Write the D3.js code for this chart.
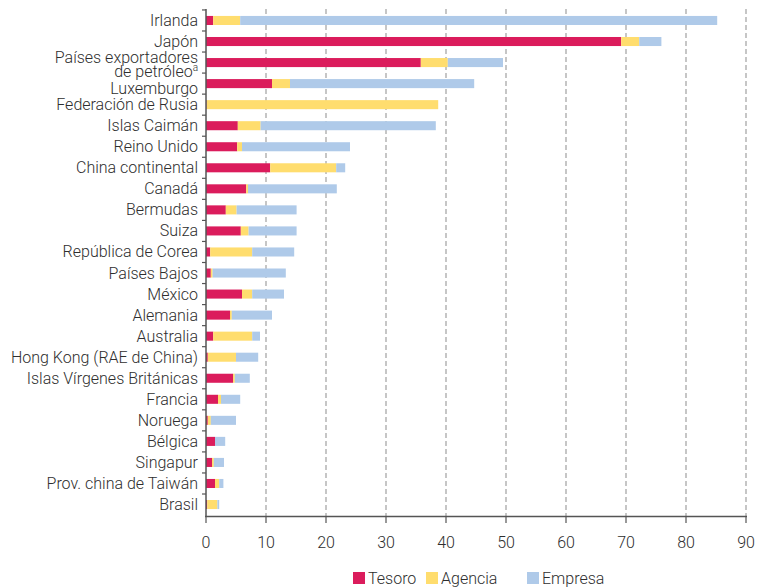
<!DOCTYPE html>
<html><head><meta charset="utf-8">
<script src="https://cdn.jsdelivr.net/npm/d3@7"></script>
<style>
body{margin:0;background:#fff}
text{font-family:Roboto,'Liberation Sans',sans-serif;font-weight:300;fill:#2e2e2e}
</style>
</head><body>
<svg id="c" width="770" height="588"></svg>
<script>
const categories = ["Irlanda","Japón","Países exportadores de petróleo","Luxemburgo","Federación de Rusia","Islas Caimán","Reino Unido","China continental","Canadá","Bermudas","Suiza","República de Corea","Países Bajos","México","Alemania","Australia","Hong Kong (RAE de China)","Islas Vírgenes Británicas","Francia","Noruega","Bélgica","Singapur","Prov. china de Taiwán","Brasil"];
const tesoro  = [1.2,69.2,35.8,11.0,0.1,5.3,5.2,10.7,6.7,3.3,5.8,0.7,0.8,6.0,4.0,1.2,0.3,4.5,2.0,0.3,1.5,1.0,1.5,0.2];
const agencia = [4.5,3.0,4.5,3.0,38.6,3.8,0.8,11.0,0.3,1.8,1.3,7.0,0.3,1.7,0.3,6.5,4.7,0.3,0.5,0.5,0.0,0.3,0.7,1.7];
const empresa = [79.5,3.7,9.2,30.7,0.0,29.2,18.0,1.5,14.8,10.0,8.0,7.0,12.2,5.3,6.7,1.3,3.7,2.5,3.2,4.2,1.7,1.7,0.7,0.3];
const xTicks = [0,10,20,30,40,50,60,70,80,90];
const seriesNames = ["Tesoro","Agencia","Empresa"];
const seriesColors = ["#DB1C5C","#FFDD6E","#AFCAE9"];

const svg = d3.select("#c");
const x = d3.scaleLinear().domain([0,90]).range([206,746]);
const y = d3.scaleBand().domain(categories).range([9,516]).paddingInner(0.57).paddingOuter(0.33);

const table = categories.map((c,i)=>({cat:c,Tesoro:tesoro[i],Agencia:agencia[i],Empresa:empresa[i]}));
const stack = d3.stack().keys(seriesNames)(table);

// gridlines
svg.append("g").selectAll("line").data(xTicks.slice(1)).join("line")
  .attr("x1",d=>x(d)).attr("x2",d=>x(d)).attr("y1",9).attr("y2",516)
  .attr("stroke","#a8a8a8").attr("stroke-width",1.3).attr("stroke-dasharray","5,3");

// bars
svg.append("g").selectAll("g").data(stack).join("g")
  .attr("fill",(d,i)=>seriesColors[i])
  .selectAll("rect").data(d=>d).join("rect")
  .attr("x",d=>x(d[0])).attr("width",d=>Math.max(0,x(d[1])-x(d[0])))
  .attr("y",d=>y(d.data.cat)).attr("height",y.bandwidth());

// y axis
svg.append("line").attr("x1",206).attr("x2",206).attr("y1",9).attr("y2",516)
  .attr("stroke","#555").attr("stroke-width",1.5);
const bounds = d3.range(categories.length).map(i=>y(categories[i]) - (y.step()-y.bandwidth())/2);
svg.append("g").selectAll("line").data(bounds).join("line")
  .attr("x1",202).attr("x2",206).attr("y1",d=>d).attr("y2",d=>d)
  .attr("stroke","#555").attr("stroke-width",1.2);

// y labels
const lab = svg.append("g").attr("text-anchor","end").style("font-size","16px");
categories.forEach((c,i)=>{
  const cy = y(c)+y.bandwidth()/2;
  if(i===2){
    lab.append("text").attr("x",198).attr("y",cy+0.5).text("Países exportadores");
    const t2 = lab.append("text").attr("x",198).attr("y",cy+14);
    t2.append("tspan").text("de petróleo");
    t2.append("tspan").attr("dy",-6).style("font-size","10px").text("a");
  } else {
    const off = (i===3) ? 4.5 : 0;
    lab.append("text").attr("x",198).attr("y",cy+5.5+off).text(c);
  }
});

// x axis
svg.append("line").attr("x1",205).attr("x2",747).attr("y1",516.5).attr("y2",516.5)
  .attr("stroke","#555").attr("stroke-width",1.5);
svg.append("g").selectAll("line").data(xTicks).join("line")
  .attr("x1",d=>x(d)).attr("x2",d=>x(d)).attr("y1",516).attr("y2",523)
  .attr("stroke","#555").attr("stroke-width",1.2);
svg.append("g").attr("text-anchor","middle").style("font-size","16px")
  .selectAll("text").data(xTicks).join("text")
  .attr("x",d=>x(d)).attr("y",548).text(d=>d);

// legend
const legX = [353,426,527];
const lg = svg.append("g").style("font-size","16px");
seriesNames.forEach((s,i)=>{
  lg.append("rect").attr("x",legX[i]).attr("y",572).attr("width",12).attr("height",12).attr("fill",seriesColors[i]);
  lg.append("text").attr("x",legX[i]+15).attr("y",584).text(s);
});
</script>
</body></html>
